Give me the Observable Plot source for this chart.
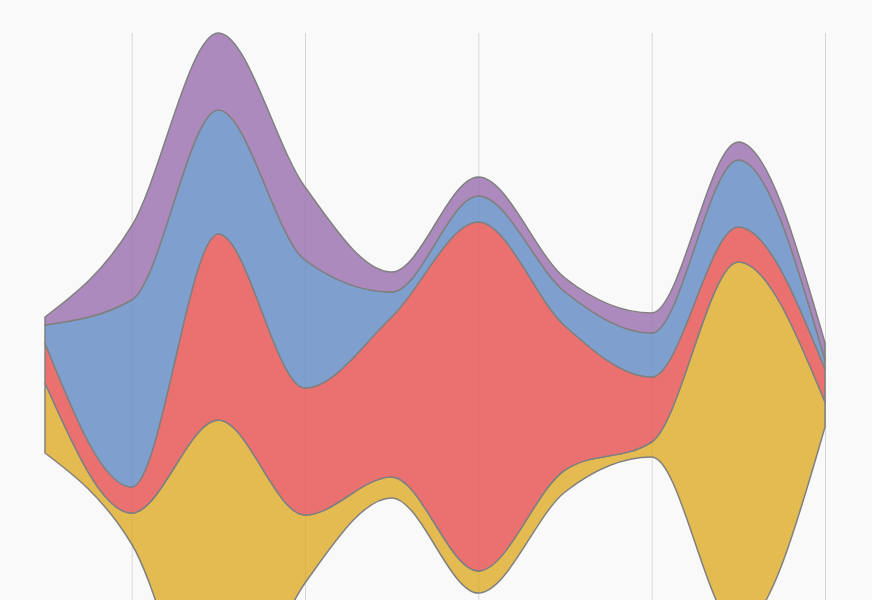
<!DOCTYPE html>
<html>
<head>
<meta charset="utf-8">
<script src="https://cdn.jsdelivr.net/npm/d3@7"></script>
<script src="https://cdn.jsdelivr.net/npm/@observablehq/plot@0.6"></script>
<style>
  html, body { margin: 0; padding: 0; background: #f9f9f9; }
  #chart svg { display: block; background: #f9f9f9; }
</style>
</head>
<body>
<div id="chart"></div>
<script>
const steps = [0, 1, 2, 3, 4, 5, 6, 7, 8, 9];
const gridTicks = [1, 3, 5, 7, 9];
const seriesNames = ["Series A", "Series B", "Series C", "Series D"];
const seriesColors = ["#e4bb50", "#eb7171", "#7fa0cf", "#ad8abe"];
const seriesAValues = [70, 31, 317, 68, 21, 22, 22, 15, 366, 25];
const seriesBValues = [40, 26, 186, 127, 160, 349, 144, 65, 35, 33];
const seriesCValues = [18, 187, 124, 128, 25, 26, 34, 44, 67, 9];
const seriesDValues = [8, 74, 77, 73, 20, 19, 14, 20, 18, 17];

const valueSets = [seriesAValues, seriesBValues, seriesCValues, seriesDValues];
const data = [];
steps.forEach((s, i) => {
  seriesNames.forEach((name, k) => {
    data.push({step: s, series: name, value: valueSets[k][i]});
  });
});

const chart = Plot.plot({
  width: 872,
  height: 770,
  marginTop: 33,
  marginBottom: 33,
  marginLeft: 45,
  marginRight: 47,
  style: {background: "#f9f9f9"},
  x: {axis: null, domain: [0, 9]},
  y: {axis: null},
  color: {type: "ordinal", domain: seriesNames, range: seriesColors},
  marks: [
    Plot.gridX(gridTicks, {stroke: "#000", strokeOpacity: 0.1}),
    Plot.areaY(data, {
      x: "step",
      y: "value",
      z: "series",
      fill: "series",
      offset: "center",
      curve: "monotone-x",
      stroke: "#808080",
      strokeWidth: 1.5
    }),
    Plot.gridX(gridTicks, {stroke: "#000", strokeOpacity: 0.04})
  ]
});
document.getElementById("chart").appendChild(chart);
</script>
</body>
</html>
